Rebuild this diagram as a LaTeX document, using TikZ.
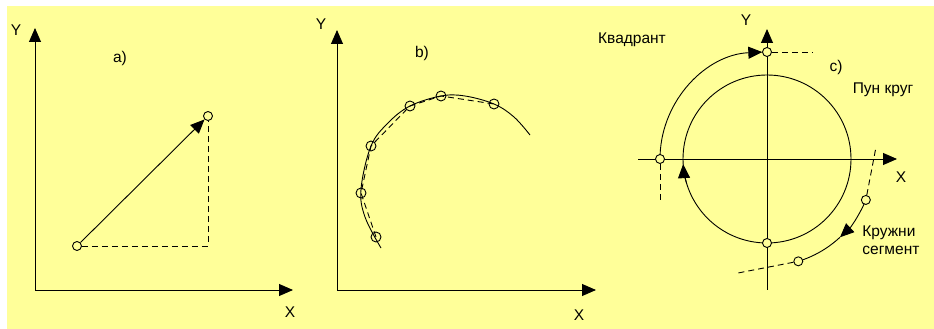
\documentclass[tikz,border=0pt]{standalone}
\usepackage{fontspec}
\setmainfont{Liberation Sans}
\usetikzlibrary{arrows.meta}
\definecolor{bgyellow}{HTML}{FFFF99}
\begin{document}
\begin{tikzpicture}[x=1pt,y=1pt,
  line width=0.9pt,
  tip/.style={-{Triangle[length=14pt,width=12pt]}},
  dsh/.style={dash pattern=on 6pt off 4pt},
  pt/.style={circle,draw,fill=bgyellow,inner sep=0pt,minimum size=9pt,line width=0.9pt},
  ptb/.style={circle,draw,inner sep=0pt,minimum size=10pt,line width=0.9pt},
  lbl/.style={font=\fontsize{15.5}{17}\selectfont,inner sep=0pt}]
\useasboundingbox (0,0) rectangle (934,329);
\fill[bgyellow] (7,0) rectangle (934,323);

% ---------- panel a ----------
\coordinate (aO) at (35,39);
\coordinate (aY) at (35,301);
\coordinate (aX) at (293,39);
\draw[tip] (aO) -- (aY);
\draw[tip] (aO) -- (aX);
\node[lbl] (aYl) at (16,299) {Y};
\node[lbl] (aXl) at (290,17) {X};
\node[lbl] (alab) at (120,271) {a)};
\coordinate (aC) at (208,83);
\node[pt] (A1) at (77,83) {};
\node[pt] (A2) at (208,213) {};
\draw[dsh] (A1) -- (aC) -- (A2);
\draw[tip] (A1) -- (A2);

% ---------- panel b ----------
\coordinate (bO) at (337,39);
\coordinate (bY) at (337,299);
\coordinate (bX) at (596,39);
\draw[tip] (bO) -- (bY);
\draw[tip] (bO) -- (bX);
\node[lbl] (bYl) at (321,305) {Y};
\node[lbl] (bXl) at (579,14) {X};
\node[lbl] (blab) at (422,276) {b)};
\draw plot[smooth,tension=0.6] coordinates {(381,81) (365,112) (361,140) (371,183) (388,206) (410,223) (441,233) (465,233) (494,225) (514,212) (530,194)};
\node[ptb] (B1) at (376,92) {};
\node[ptb] (B2) at (361,136) {};
\node[ptb] (B3) at (371,183) {};
\node[ptb] (B4) at (410,223) {};
\node[ptb] (B5) at (441,233) {};
\node[ptb] (B6) at (494,225) {};
\draw[dsh] (B1.center) -- (B2.center) -- (B3.center) -- (B4.center) -- (B5.center) -- (B6.center);

% ---------- panel c ----------
\coordinate (cO) at (767,170);
\coordinate (cYb) at (767,39);
\coordinate (cY) at (767,300);
\coordinate (cXl) at (638,170);
\coordinate (cX) at (897,170);
\draw[tip] (cYb) -- (cY);
\draw[tip] (cXl) -- (cX);
\node[lbl] (cYlab) at (746,309) {Y};
\node[lbl] (cXlab) at (901,152) {X};
\node[lbl] (clab) at (836,262) {c)};
\draw (cO) circle[radius=84];
\draw[tip] ([shift={(197:84)}]cO) arc[start angle=197,end angle=183.5,radius=84];
% quadrant
\draw[tip] ([shift={(178:107)}]cO) arc[start angle=178,end angle=92.5,radius=107];
% circular segment
\draw[tip] ([shift={(-22.5:107)}]cO) arc[start angle=-22.5,end angle=-47,radius=107];
\draw ([shift={(-47:107)}]cO) arc[start angle=-47,end angle=-73,radius=107];
\coordinate (Q2e) at (812,277);
\coordinate (Q1e) at (660,127);
\coordinate (S1e) at (876,182);
\coordinate (S2e) at (738,56);
\node[pt] (Q1) at (660,170) {};
\node[pt] (Q2) at (767,277) {};
\node[pt] (Q3) at (767,86) {};
\node[pt] (S1) at ([shift={(-22.5:107)}]cO) {};
\node[pt] (S2) at ([shift={(-73:107)}]cO) {};
\draw[dsh] (Q2) -- (Q2e);
\draw[dsh] (Q1) -- (Q1e);
\draw[dsh] (S1) -- (S1e);
\draw[dsh] (S2) -- (S2e);
\node[lbl] (kv) at (632,289) {Квадрант};
\node[lbl] (pk) at (883,239) {Пун круг};
\node[lbl,anchor=west] (kr) at (862,96) {Кружни};
\node[lbl,anchor=west] (sg) at (862,79) {сегмент};
\end{tikzpicture}
\end{document}
